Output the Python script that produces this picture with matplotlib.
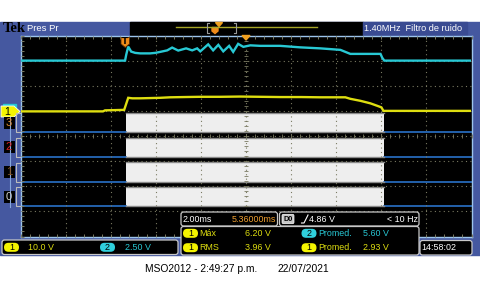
import numpy as np
import matplotlib
matplotlib.use('Agg')
import matplotlib.pyplot as plt
from matplotlib.patches import Rectangle, FancyBboxPatch, Polygon

# scope settings
t_div = 2.0          # ms/div
t_delay = 5.36       # ms, screen centre after trigger
ch1_vdiv = 10.0      # V/div
ch2_vdiv = 2.50      # V/div
gnd_div = 1.0        # ground markers sit 1 div above centre

# channel 1 (yellow) - time in ms, volts
ch1_t = [-4.64, -1.00, -0.91, -0.06, 0.03, 0.12, 0.30, 0.65, 1.10, 1.54, 1.98, 2.60,
         3.32, 4.20, 5.09, 6.00, 6.87, 7.80, 8.65, 9.76, 9.98, 10.43, 10.87, 11.18,
         11.36, 11.45, 15.36]
ch1_v = [-0.2, -0.2, 0.2, 0.4, 2.8, 5.2, 5.0, 5.0, 5.1, 5.2, 5.4, 5.5,
         5.6, 5.6, 5.7, 5.6, 5.5, 5.5, 5.4, 5.4, 4.8, 4.0, 3.0, 2.0,
         1.4, 0.0, 0.0]

# channel 2 (cyan)
ch2_t = [-4.64, -0.02, 0.03, 0.12, 0.25, 0.43, 0.65, 1.09, 1.32, 1.54, 1.85, 2.07,
         2.34, 2.69, 2.96, 3.18, 3.32, 3.67, 3.89, 4.12, 4.34, 4.60, 4.78, 5.00,
         5.23, 5.54, 5.98, 6.43, 6.87, 7.76, 8.65, 9.54, 9.76, 9.98, 10.65, 11.32,
         11.40, 11.49, 15.36]
ch2_v = [5.0, 5.0, 5.57, 6.40, 5.90, 5.77, 5.72, 5.72, 5.77, 5.87, 6.02, 6.30,
         6.00, 6.22, 6.02, 6.22, 5.92, 6.62, 6.02, 6.57, 5.92, 6.47, 5.87, 6.67,
         6.37, 6.52, 6.47, 6.47, 6.47, 6.32, 6.22, 6.07, 5.87, 5.67, 5.67, 5.67,
         5.27, 5.00, 5.00]

# digital channels D3..D0, all high between the same edges
dig_labels = ['3', '2', '1', '0']
dig_colors = ['#e08a2c', '#d62020', '#8c5a2a', '#d0d0d0']
dig_edges = [0.02, 11.46]
dig_base = [4.14, 3.16, 2.18, 1.20]   # row baselines, divisions from bottom

# readouts
ch1_scale = '10.0 V'
ch2_scale = '2.50 V'
meas_rows = [('1', 'Máx', '6.20 V', '2', 'Promed.', '5.60 V'),
             ('1', 'RMS', '3.96 V', '1', 'Promed.', '2.93 V')]

FRAME = '#4558a0'
YEL = '#dede10'
CYAN = '#28c8d4'
GRIDC = '#7a7a62'
FONT = 'Liberation Sans'
FS = 6.4

W, H = 480, 292
fig = plt.figure(figsize=(4.8, 2.92), dpi=100)
fig.patch.set_facecolor('white')


def px_rect(x0, y0, x1, y1):
    return [x0 / W, 1 - y1 / H, (x1 - x0) / W, (y1 - y0) / H]


bg = fig.add_axes([0, 0, 1, 1])
bg.set_xlim(0, W)
bg.set_ylim(H, 0)
bg.axis('off')
bg.add_patch(Rectangle((0, 22), 480, 233, color=FRAME))
bg.add_patch(Rectangle((130, 22), 233, 13, color='black'))
bg.add_patch(Rectangle((363, 22), 104, 12.5, color='#3a4b92'))

# ---- graticule + digital channels
t_left = t_delay - 5 * t_div
t_right = t_delay + 5 * t_div
ax = fig.add_axes(px_rect(21, 35.5, 471.5, 236.5))
ax.set_facecolor('black')
ax.set_xlim(t_left, t_right)
ax.set_ylim(0, 8)
ax.set_xticks(t_left + t_div * np.arange(1, 10))
ax.set_xticks(t_left + t_div / 5 * np.arange(51), minor=True)
ax.set_yticks(np.arange(1, 8))
ax.set_yticks(np.arange(0, 8.01, 0.2), minor=True)
ax.tick_params(which='both', direction='in', top=True, right=True, length=2.5,
               width=0.7, color=GRIDC, labelbottom=False, labelleft=False)
ax.grid(True, which='major', color=GRIDC, ls=(0, (1, 3)), lw=0.8)
ax.set_axisbelow(False)
for s in ax.spines.values():
    s.set_color('#9cc4ec')
    s.set_linewidth(1)
# centre-line ticks
ax.plot(np.full(41, t_delay), np.arange(0, 8.01, 0.2), ls='none', marker='_',
        ms=3, mew=0.6, color=GRIDC, zorder=2.6)
ax.plot(t_left + t_div / 5 * np.arange(51), np.full(51, 4.0), ls='none', marker='|',
        ms=3, mew=0.6, color=GRIDC, zorder=2.6)

dig_t = np.array([t_left, dig_edges[0], dig_edges[1], t_right])
state = np.array([0, 1, 0, 0])
for b in dig_base:
    ax.fill_between(dig_t, b, b + 0.77 * state, step='post', facecolor='#eeeeee',
                    edgecolor='none', zorder=1)
    ax.step(dig_t, np.where(state == 0, b, np.nan), where='post', color='#2a72c8',
            lw=1.2, zorder=1.5)
    ax.step(dig_t, np.where(state == 1, b + 0.77, np.nan), where='post',
            color='#8a8a8a', lw=1.0, zorder=1.5)
    ax.step(dig_t, np.where(state == 1, b, np.nan), where='post',
            color='#8a8a8a', lw=1.0, zorder=1.5)

# analog channels on their own volt scales
a1 = ax.twinx()
a1.set_ylim(-(4 + gnd_div) * ch1_vdiv, (4 - gnd_div) * ch1_vdiv)
a1.axis('off')
a1.plot(ch1_t, ch1_v, color=YEL, lw=1.7, solid_joinstyle='miter')
a2 = ax.twinx()
a2.set_ylim(-(4 + gnd_div) * ch2_vdiv, (4 - gnd_div) * ch2_vdiv)
a2.axis('off')
a2.plot(ch2_t, ch2_v, color=CYAN, lw=1.7, solid_joinstyle='miter')

# ---- overlay: markers, header, readouts
ov = fig.add_axes([0, 0, 1, 1])
ov.set_facecolor('none')
ov.set_xlim(0, W)
ov.set_ylim(H, 0)
ov.axis('off')


def txt(x, y, s, color, size=FS, **kw):
    kw.setdefault('ha', 'left')
    ov.text(x, y, s, color=color, fontsize=size, family=FONT, va='center', **kw)


# header
ov.text(2.5, 28.5, 'Tek', family='Liberation Serif', weight='bold', fontsize=10.5,
        color='black', va='center')
txt(27, 28.8, 'Pres Pr', 'white', size=6.8)
txt(364, 28.8, '1.40MHz  Filtro de ruido', 'white', size=6.6)
ov.plot([176, 317], [27, 27], color='#a6a628', lw=1)
ov.plot([209, 207, 207, 209], [23, 23, 33, 33], color='#9a9a9a', lw=0.8)
ov.plot([234, 236, 236, 234], [23, 23, 33, 33], color='#9a9a9a', lw=0.8)
ov.add_patch(Polygon([(215.5, 22.5), (222.5, 22.5), (219, 26.5)], color='#f0a020'))
ov.add_patch(Polygon([(212, 27.5), (218, 27.5), (218, 31), (215, 33.5), (212, 31)],
                     color='#f08c1a'))

# trigger / expansion markers
ov.add_patch(Polygon([(121, 37.5), (129.5, 37.5), (129.5, 44), (125.3, 47.5), (121, 44)],
                     facecolor='#f08c1a', edgecolor='#5a2a00', lw=0.6))
ov.text(125.3, 41.8, 'T', color='black', fontsize=6, weight='bold', ha='center',
        va='center')
ov.add_patch(Polygon([(242, 35.5), (250, 35.5), (246, 40)], color='#f0a020'))

# left channel markers
ov.plot([10, 10], [117, 207], color='#86a6dc', lw=0.8)
ov.add_patch(Rectangle((3, 103.5), 13, 3, color=CYAN))
ov.add_patch(Polygon([(1, 106), (14, 106), (20, 111.5), (14, 117), (1, 117)],
                     facecolor='#f4f400', edgecolor='white', lw=0.6))
ov.text(7.5, 111.8, '1', color='black', fontsize=7.5, ha='center', va='center',
        family=FONT)
for lab, col, b in zip(dig_labels, dig_colors, dig_base):
    yc = 236.5 - (b + 0.385) * 25.125
    ov.add_patch(Rectangle((3.5, yc - 6), 11, 12, facecolor='black', edgecolor='none'))
    ov.plot([20, 16, 16, 20], [yc - 9.5, yc - 9.5, yc + 9.5, yc + 9.5],
            color='#bbbbbb', lw=0.8)
    ov.text(9, yc, lab, color=col, fontsize=8, ha='center', va='center', family=FONT)


def box(x0, y0, x1, y1):
    ov.add_patch(FancyBboxPatch((x0, y0), x1 - x0, y1 - y0,
                                boxstyle='round,pad=0,rounding_size=2.5',
                                facecolor='black', edgecolor='#c8c8c8', lw=0.9))


def badge(x, y, s, col):
    ov.add_patch(FancyBboxPatch((x, y - 4.5), 15, 9,
                                boxstyle='round,pad=0,rounding_size=4.5',
                                facecolor=col, edgecolor='none'))
    ov.text(x + 7.5, y, s, color='black', fontsize=6.5, ha='center', va='center',
            family=FONT)


# channel scale box
box(2, 240, 178, 254.5)
badge(4, 247.3, '1', '#f4f400')
txt(28, 247.3, ch1_scale, YEL)
badge(100, 247.3, '2', '#30d0dc')
txt(125, 247.3, ch2_scale, CYAN)

# timebase / trigger boxes
box(181, 212, 277.5, 226)
txt(182.5, 219, '2.00ms', 'white')
txt(231.5, 219, '5.36000ms', '#f0a030')
box(279.5, 212, 419, 226)
ov.add_patch(FancyBboxPatch((282, 214.3), 12, 9.4, boxstyle='round,pad=0,rounding_size=1.5',
                            facecolor='#c8c8c8', edgecolor='white', lw=0.5))
ov.text(288, 219.2, 'D0', color='black', fontsize=5.2, ha='center', va='center',
        family=FONT, weight='bold')
ov.plot([301.5, 304, 308], [223, 223, 215], color='white', lw=0.8)
txt(309, 219, '4.86 V', 'white')
txt(387, 219, '< 10 Hz', 'white')

# measurement box
box(181, 226.5, 419, 255)
for row, y in zip(meas_rows, [233.3, 247.7]):
    c1, n1, v1, c2, n2, v2 = row
    col2 = CYAN if c2 == '2' else YEL
    badge(183, y, c1, '#f4f400')
    txt(199, y, n1, YEL)
    txt(245, y, v1, YEL)
    badge(301.5, y, c2, '#30d0dc' if c2 == '2' else '#f4f400')
    txt(318, y, n2, col2)
    txt(363, y, v2, col2)

box(420, 240.5, 472, 255)
txt(421.5, 248, '14:58:02', 'white')

# caption
ov.text(145, 268.5, 'MSO2012 - 2:49:27 p.m.', color='black', fontsize=7.4,
        family=FONT, ha='left', va='center')
ov.text(278, 268.5, '22/07/2021', color='black', fontsize=7.4,
        family=FONT, ha='left', va='center')

fig.savefig('out.png', dpi=100, facecolor='white')
